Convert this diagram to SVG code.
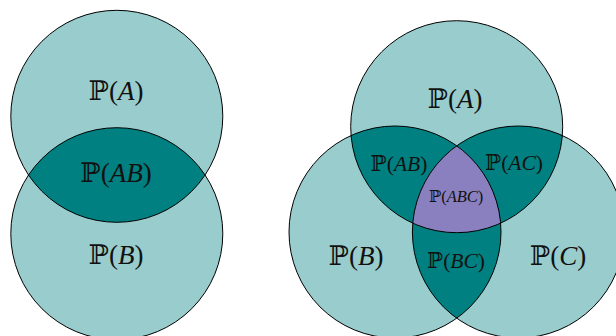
<svg xmlns="http://www.w3.org/2000/svg" width="616" height="336" viewBox="0 0 616 336">
<style>
.light{fill:#99cccc}
.dark{fill:#008080}
.purple{fill:#8a80c0}
.edge{fill:none;stroke:#000;stroke-width:1}
text{font-family:"Liberation Serif","DejaVu Serif",serif;fill:#111;text-anchor:middle}
.bb{font-family:"DejaVu Serif","DejaVu Sans",serif;font-style:normal}
.v{font-style:italic}
.L{font-size:27px}
.M{font-size:21.5px}
.S{font-size:16.5px}
</style>
<defs>
<clipPath id="cA1"><circle cx="116.8" cy="116.3" r="106"/></clipPath>
<clipPath id="cA2"><circle cx="456.7" cy="126.7" r="106"/></clipPath>
<clipPath id="cB2"><circle cx="395" cy="232" r="106"/></clipPath>
</defs>
<g id="left-diagram">
<g id="left-A"><circle class="light" cx="116.8" cy="116.3" r="106"/></g>
<g id="left-B"><circle class="light" cx="116.8" cy="233.7" r="106"/></g>
<g id="left-AB"><circle class="dark" cx="116.8" cy="233.7" r="106" clip-path="url(#cA1)"/></g>
<circle class="edge" cx="116.8" cy="116.3" r="106"/>
<circle class="edge" cx="116.8" cy="233.7" r="106"/>
<text class="L" x="116" y="100"><tspan class="bb">ℙ</tspan>(<tspan class="v">A</tspan>)</text>
<text class="L" x="116" y="182"><tspan class="bb">ℙ</tspan>(<tspan class="v">AB</tspan>)</text>
<text class="L" x="116" y="264"><tspan class="bb">ℙ</tspan>(<tspan class="v">B</tspan>)</text>
</g>
<g id="right-diagram">
<g id="right-A"><circle class="light" cx="456.7" cy="126.7" r="106"/></g>
<g id="right-B"><circle class="light" cx="395" cy="232" r="106"/></g>
<g id="right-C"><circle class="light" cx="518.4" cy="232" r="106"/></g>
<g id="right-AB"><circle class="dark" cx="395" cy="232" r="106" clip-path="url(#cA2)"/></g>
<g id="right-AC"><circle class="dark" cx="518.4" cy="232" r="106" clip-path="url(#cA2)"/></g>
<g id="right-BC"><circle class="dark" cx="518.4" cy="232" r="106" clip-path="url(#cB2)"/></g>
<g id="right-ABC" clip-path="url(#cA2)"><g clip-path="url(#cB2)"><circle class="purple" cx="518.4" cy="232" r="106"/></g></g>
<circle class="edge" cx="456.7" cy="126.7" r="106"/>
<circle class="edge" cx="395" cy="232" r="106"/>
<circle class="edge" cx="518.4" cy="232" r="106"/>
<text class="L" x="455" y="108"><tspan class="bb">ℙ</tspan>(<tspan class="v">A</tspan>)</text>
<text class="M" x="399" y="171"><tspan class="bb">ℙ</tspan>(<tspan class="v">AB</tspan>)</text>
<text class="M" x="514" y="170"><tspan class="bb">ℙ</tspan>(<tspan class="v">AC</tspan>)</text>
<text class="S" x="456" y="202"><tspan class="bb">ℙ</tspan>(<tspan class="v">ABC</tspan>)</text>
<text class="M" x="456" y="268"><tspan class="bb">ℙ</tspan>(<tspan class="v">BC</tspan>)</text>
<text class="L" x="356" y="265"><tspan class="bb">ℙ</tspan>(<tspan class="v">B</tspan>)</text>
<text class="L" x="558" y="265"><tspan class="bb">ℙ</tspan>(<tspan class="v">C</tspan>)</text>
</g>
</svg>
